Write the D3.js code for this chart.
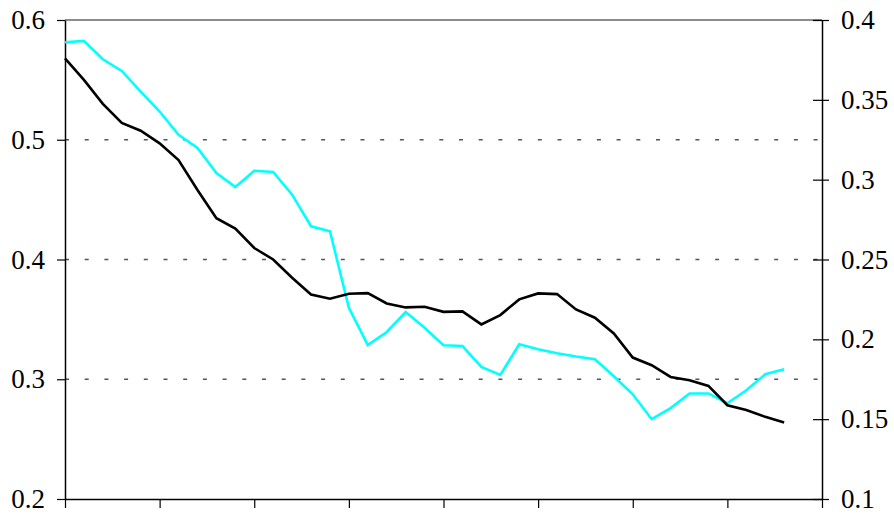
<!DOCTYPE html>
<html>
<head>
<meta charset="utf-8">
<script src="https://cdn.jsdelivr.net/npm/d3@7"></script>
<style>
  body { margin: 0; background: #fff; }
  svg text { font-family: "Liberation Serif", "Times New Roman", Times, "DejaVu Serif", serif !important; }
</style>
</head>
<body>
<div id="chart"></div>
<script>
// series (black on left axis, cyan on right axis)
const blackValues = [0.568, 0.550, 0.530, 0.514, 0.5075, 0.497, 0.483, 0.458, 0.4345, 0.4258,
    0.4096, 0.400, 0.3848, 0.3708, 0.3673, 0.3714, 0.3719, 0.3633, 0.360, 0.3606,
    0.3563, 0.3567, 0.3458, 0.3536, 0.3667, 0.3717, 0.3711, 0.3583, 0.3514, 0.3383,
    0.3181, 0.3117, 0.3019, 0.2992, 0.2944, 0.2783, 0.2744, 0.2686, 0.2639];
const cyanValues = [0.3861, 0.3869, 0.3754, 0.3681, 0.3552, 0.3427, 0.3281, 0.3198, 0.3042, 0.2954,
    0.3056, 0.3048, 0.2906, 0.2708, 0.2677, 0.2198, 0.1964, 0.2046, 0.2171, 0.2073,
    0.1963, 0.1958, 0.1827, 0.1777, 0.1969, 0.1938, 0.1913, 0.1892, 0.1875, 0.1769,
    0.1656, 0.150, 0.1569, 0.1661, 0.1661, 0.160, 0.1681, 0.1781, 0.1813];

const xTicks = [0, 5, 10, 15, 20, 25, 30, 35, 40];
const leftTicks = [0.2, 0.3, 0.4, 0.5, 0.6];
const rightTicks = [0.1, 0.15, 0.2, 0.25, 0.3, 0.35, 0.4];
const gridValues = [0.3, 0.4, 0.5];

// set the dimensions and margins of the graph
const margin = {top: 20, right: 72, bottom: 19, left: 65},
    width = 894 - margin.left - margin.right,
    height = 518 - margin.top - margin.bottom;

const x = d3.scaleLinear().domain([0, 40]).range([0, width]);
const yLeft = d3.scaleLinear().domain([0.2, 0.6]).range([height, 0]);
const yRight = d3.scaleLinear().domain([0.1, 0.4]).range([height, 0]);

const svg = d3.select("#chart")
    .append("svg")
        .attr("width", 894)
        .attr("height", 518)
    .append("g")
        .attr("transform", `translate(${margin.left}, ${margin.top})`);

// dashed gridlines
svg.selectAll(".grid")
    .data(gridValues)
    .join("line")
    .attr("x1", 0)
    .attr("x2", width)
    .attr("y1", d => yLeft(d))
    .attr("y2", d => yLeft(d))
    .attr("stroke", "#555")
    .attr("stroke-width", 1.5)
    .attr("stroke-dasharray", "4,15.7");

// top frame line
svg.append("line")
    .attr("x1", 0)
    .attr("x2", width)
    .attr("y1", 0)
    .attr("y2", 0)
    .attr("stroke", "#8c8c8c")
    .attr("stroke-width", 2);

// bottom axis (ticks only)
const xAxis = svg.append("g")
    .attr("transform", `translate(0, ${height})`)
    .call(d3.axisBottom(x).tickValues(xTicks).tickSize(9).tickSizeOuter(0).tickFormat(""));

// left axis
const leftAxis = svg.append("g")
    .call(d3.axisLeft(yLeft).tickValues(leftTicks).tickSize(8).tickSizeOuter(0)
        .tickPadding(12).tickFormat(d => d.toString()));

// right axis, ticks cross the line
const rightAxis = svg.append("g")
    .attr("transform", `translate(${width}, 0)`)
    .call(d3.axisRight(yRight).tickValues(rightTicks).tickSize(7).tickSizeOuter(0)
        .tickPadding(12).tickFormat(d => (+d.toFixed(2)).toString()));
rightAxis.selectAll(".tick line").attr("x1", -9);

[xAxis, leftAxis, rightAxis].forEach(a => {
    a.attr("font-family", null);
    a.select(".domain").attr("stroke", "#000").attr("stroke-width", 1.5);
    a.selectAll(".tick line").attr("stroke", "#000").attr("stroke-width", 1.2);
    a.selectAll("text")
        .attr("fill", "#000")
        .style("font-size", "27px");
});

// lines
const lineLeft = d3.line()
    .x((d, i) => x(i))
    .y(d => yLeft(d));
const lineRight = d3.line()
    .x((d, i) => x(i))
    .y(d => yRight(d));

svg.append("path")
    .datum(cyanValues)
    .attr("fill", "none")
    .attr("stroke", "#00ffff")
    .attr("stroke-width", 2.6)
    .attr("d", lineRight);

svg.append("path")
    .datum(blackValues)
    .attr("fill", "none")
    .attr("stroke", "#000")
    .attr("stroke-width", 2.6)
    .attr("d", lineLeft);
</script>
</body>
</html>
